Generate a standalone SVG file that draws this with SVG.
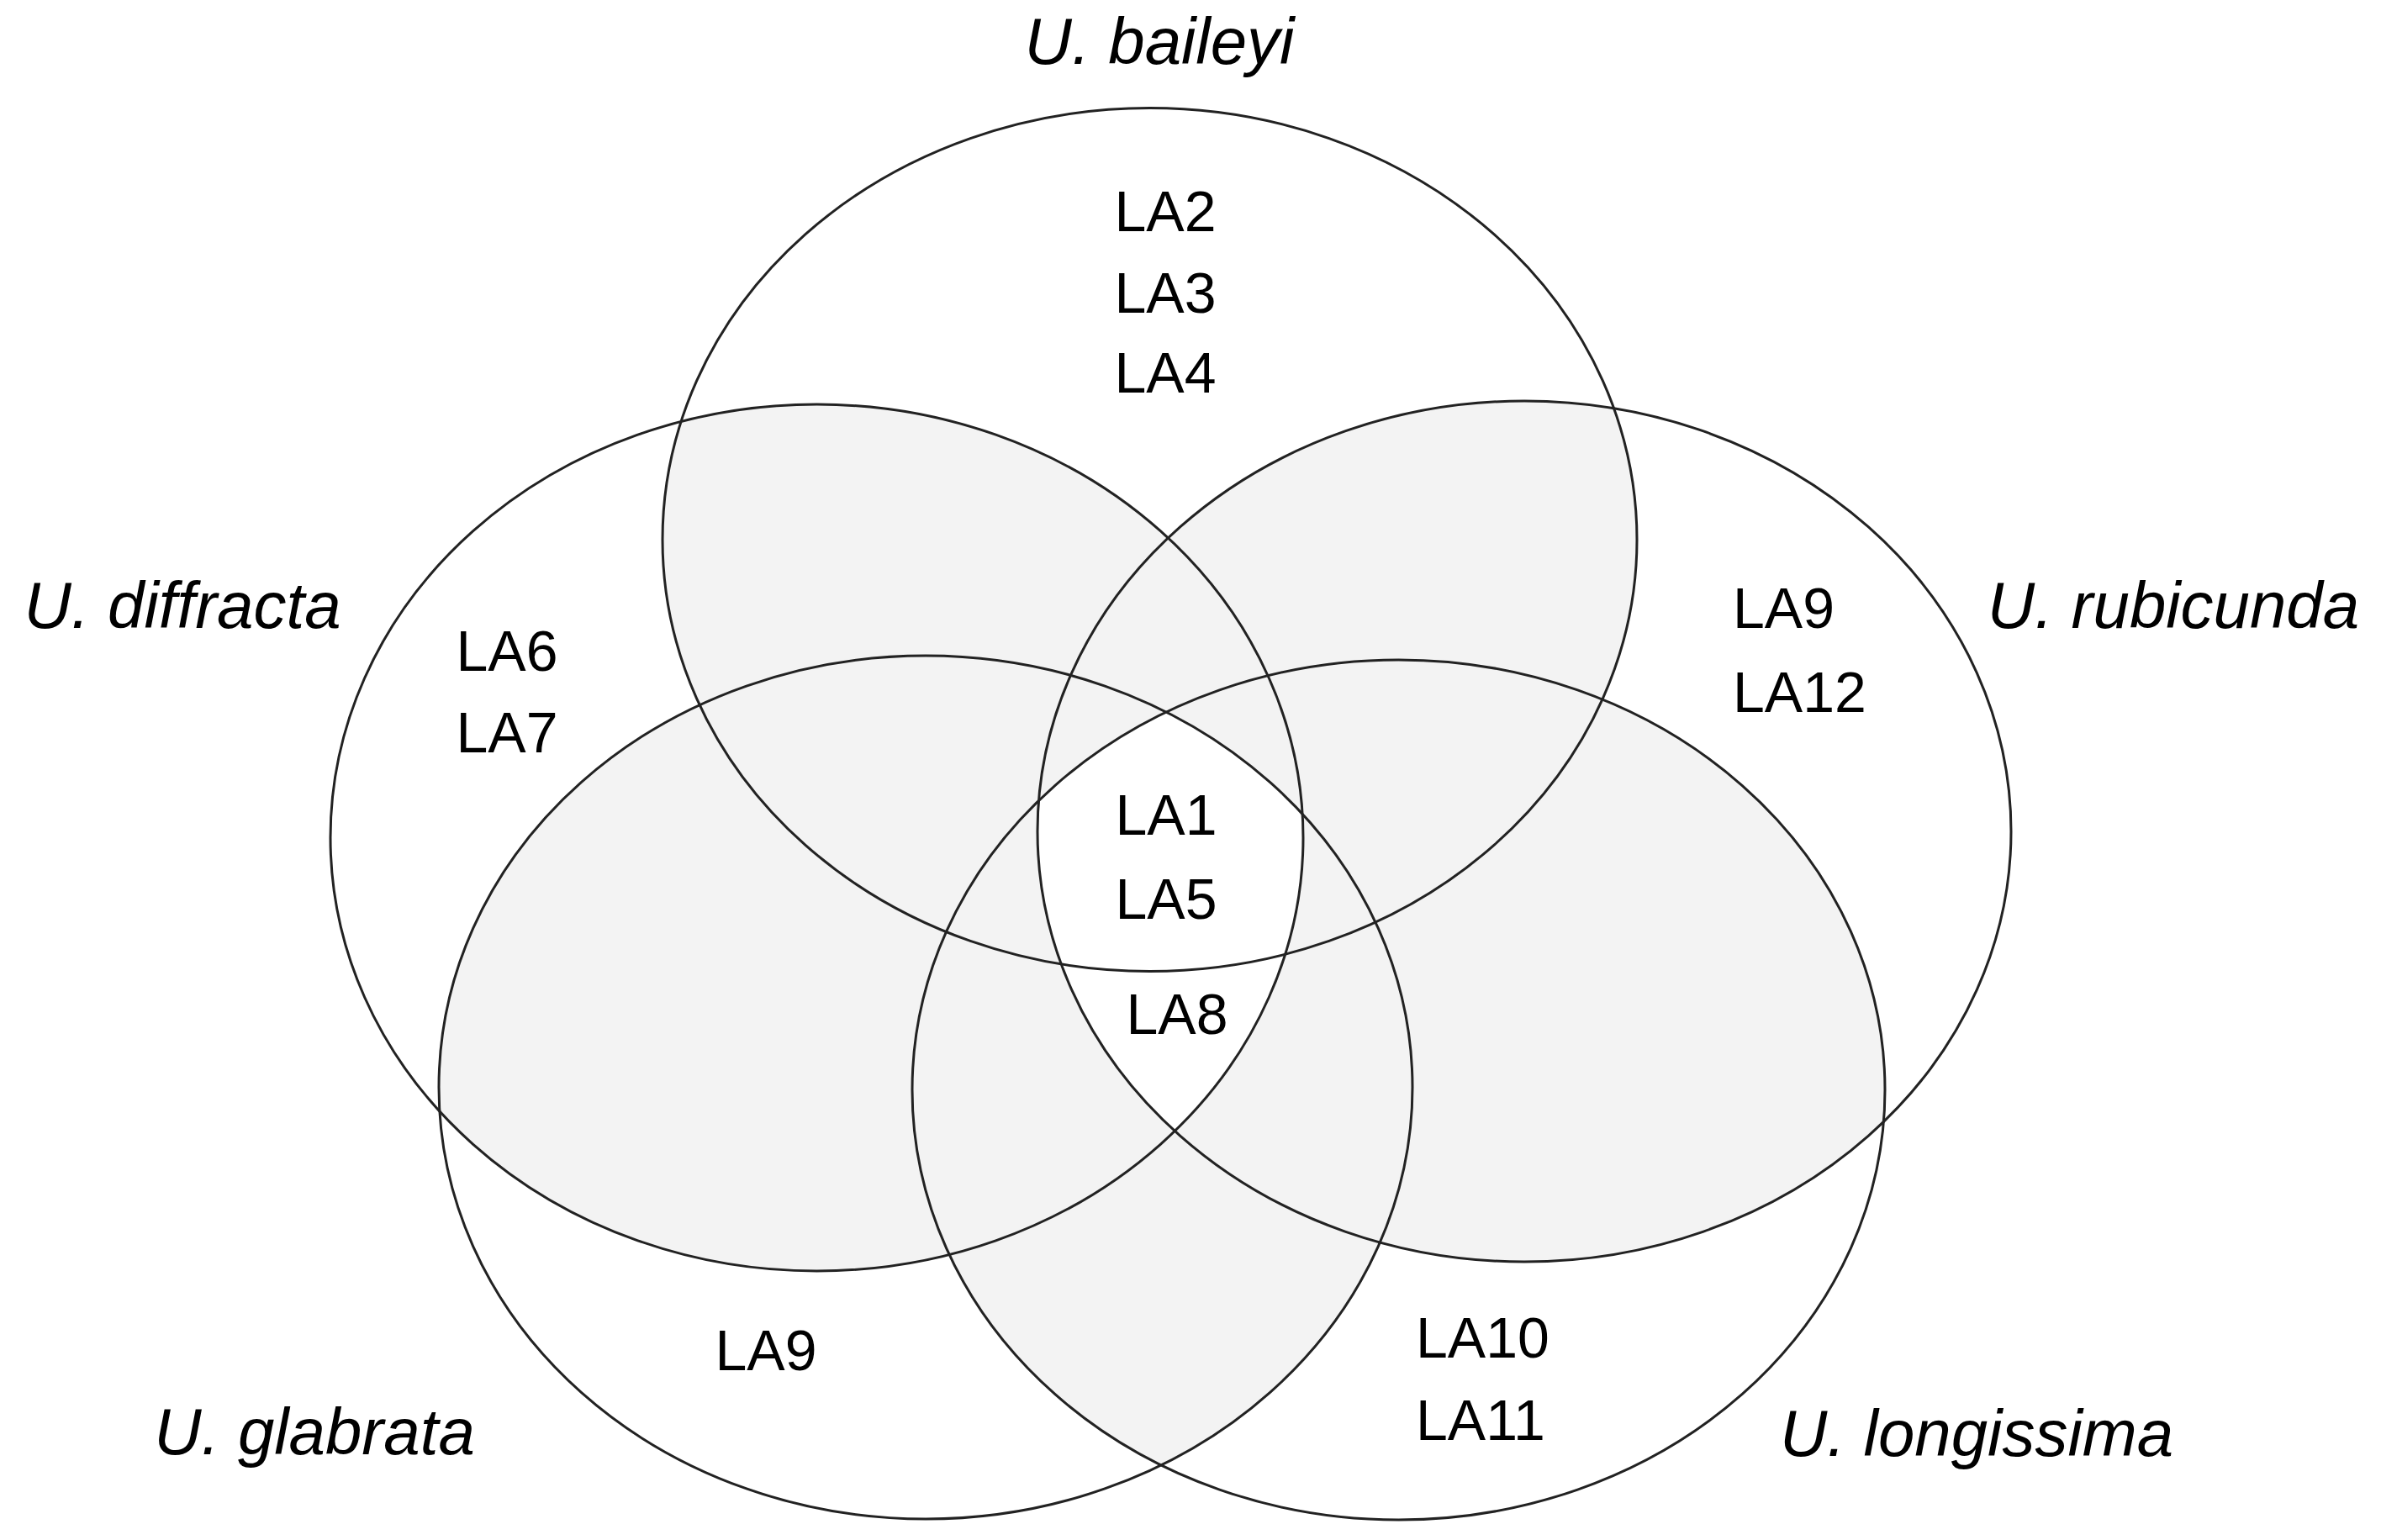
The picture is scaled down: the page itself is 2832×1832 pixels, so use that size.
<svg xmlns="http://www.w3.org/2000/svg" xmlns:xlink="http://www.w3.org/1999/xlink" width="2832" height="1832" viewBox="0 0 2832 1832">
<style>
.outline{fill:none;stroke:#222;stroke-width:3}
.shade{fill:#f3f3f3;stroke:none}
.white{fill:#ffffff;stroke:none}
.sp{font-family:"Liberation Sans",Arial,sans-serif;font-style:italic;font-size:78px;fill:#000;text-anchor:middle}
.la{font-family:"Liberation Sans",Arial,sans-serif;font-size:68px;fill:#000;text-anchor:middle}
.las{font-family:"Liberation Sans",Arial,sans-serif;font-size:68px;fill:#000;text-anchor:start}
</style>
<defs>
<ellipse id="eB" cx="1367.5" cy="642" rx="579.5" ry="513.5"/>
<ellipse id="eD" cx="971.5" cy="996.5" rx="578.5" ry="515.5"/>
<ellipse id="eR" cx="1813" cy="989" rx="579" ry="512"/>
<ellipse id="eG" cx="1101" cy="1293.5" rx="579" ry="513.5"/>
<ellipse id="eL" cx="1663.5" cy="1296.5" rx="578.5" ry="511.5"/>
<clipPath id="cB"><use xlink:href="#eB"/></clipPath>
<clipPath id="cD"><use xlink:href="#eD"/></clipPath>
<clipPath id="cR"><use xlink:href="#eR"/></clipPath>
<clipPath id="cG"><use xlink:href="#eG"/></clipPath>
<clipPath id="cL"><use xlink:href="#eL"/></clipPath>
</defs>
<rect x="0" y="0" width="2832" height="1832" fill="#ffffff"/>
<g id="shading">
<use xlink:href="#eD" class="shade" clip-path="url(#cB)"/>
<use xlink:href="#eR" class="shade" clip-path="url(#cB)"/>
<use xlink:href="#eG" class="shade" clip-path="url(#cB)"/>
<use xlink:href="#eL" class="shade" clip-path="url(#cB)"/>
<use xlink:href="#eR" class="shade" clip-path="url(#cD)"/>
<use xlink:href="#eG" class="shade" clip-path="url(#cD)"/>
<use xlink:href="#eL" class="shade" clip-path="url(#cD)"/>
<use xlink:href="#eG" class="shade" clip-path="url(#cR)"/>
<use xlink:href="#eL" class="shade" clip-path="url(#cR)"/>
<use xlink:href="#eL" class="shade" clip-path="url(#cG)"/>
<g clip-path="url(#cD)"><g clip-path="url(#cR)"><g clip-path="url(#cG)">
<use xlink:href="#eL" class="white"/>
</g></g></g>
</g>
<g id="baileyi">
<use xlink:href="#eB" class="outline"/>
<text class="sp" x="1379" y="76">U. baileyi</text>
</g>
<g id="diffracta">
<use xlink:href="#eD" class="outline"/>
<text class="sp" x="217" y="747">U. diffracta</text>
</g>
<g id="rubicunda">
<use xlink:href="#eR" class="outline"/>
<text class="sp" x="2585" y="747">U. rubicunda</text>
</g>
<g id="glabrata">
<use xlink:href="#eG" class="outline"/>
<text class="sp" x="374" y="1730">U. glabrata</text>
</g>
<g id="longissima">
<use xlink:href="#eL" class="outline"/>
<text class="sp" x="2351" y="1732">U. longissima</text>
</g>
<g id="labels">
<text class="la" x="1386" y="275">LA2</text>
<text class="la" x="1386" y="372">LA3</text>
<text class="la" x="1386" y="467">LA4</text>
<text class="la" x="603" y="798">LA6</text>
<text class="la" x="603" y="895">LA7</text>
<text class="las" x="2061" y="747">LA9</text>
<text class="las" x="2061" y="847">LA12</text>
<text class="la" x="1387" y="993">LA1</text>
<text class="la" x="1387" y="1093">LA5</text>
<text class="la" x="1400" y="1230">LA8</text>
<text class="la" x="911" y="1630">LA9</text>
<text class="las" x="1684" y="1615">LA10</text>
<text class="las" x="1684" y="1713">LA11</text>
</g>
</svg>
